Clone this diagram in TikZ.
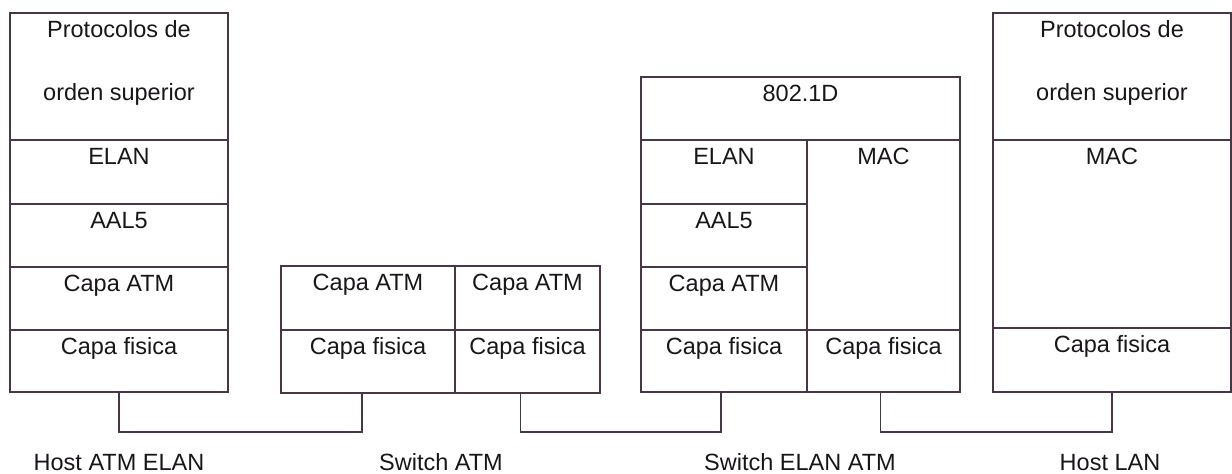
\documentclass[tikz,border=0pt]{standalone}
\usepackage{fontspec}
\setmainfont{Liberation Sans}
\usetikzlibrary{fit}
\definecolor{linec}{RGB}{70,55,68}
\definecolor{txtc}{RGB}{25,22,25}
\tikzset{
  cellst/.style={draw=linec, line width=1.5pt, inner sep=0pt, rectangle},
  txt/.style={text=txtc, font=\fontsize{23.5}{28}\selectfont, inner sep=0pt, anchor=base},
  conn/.style={draw=linec, line width=1.5pt},
}
\newcommand\cell[6]{%
  \node[cellst, fit={(#2,#3) (#4,#5)}] (#1) {};
  \node[txt] (#1-t) at ([yshift=-25pt]#1.north) {#6};
}
\begin{document}
\begin{tikzpicture}[x=1pt,y=-1pt]
\useasboundingbox (0,0) rectangle (1232,474);
% Host ATM ELAN
\node[cellst, fit={(10,13) (228,140)}] (ha1) {};
\node[txt] (ha1-t) at ([yshift=-25pt]ha1.north) {Protocolos de};
\node[txt] (ha1-u) at ([yshift=-88pt]ha1.north) {orden superior};
\cell{ha2}{10}{140}{228}{204}{ELAN}
\cell{ha3}{10}{204}{228}{267}{AAL5}
\cell{ha4}{10}{267}{228}{330}{Capa ATM}
\cell{ha5}{10}{330}{228}{392}{Capa fisica}
% Switch ATM
\cell{sa1}{281}{266}{455}{330}{Capa ATM}
\cell{sa2}{455}{266}{600}{330}{Capa ATM}
\cell{sa3}{281}{330}{455}{393}{Capa fisica}
\cell{sa4}{455}{330}{600}{393}{Capa fisica}
% Switch ELAN ATM
\cell{se1}{641}{77}{960}{140}{802.1D}
\cell{se2}{641}{140}{807}{204}{ELAN}
\cell{se3}{641}{204}{807}{267}{AAL5}
\cell{se4}{641}{267}{807}{330}{Capa ATM}
\cell{se5}{641}{330}{807}{392}{Capa fisica}
\cell{se6}{807}{140}{960}{330}{MAC}
\cell{se7}{807}{330}{960}{392}{Capa fisica}
% Host LAN
\node[cellst, fit={(993,13) (1231,140)}] (hl1) {};
\node[txt] (hl1-t) at ([yshift=-25pt]hl1.north) {Protocolos de};
\node[txt] (hl1-u) at ([yshift=-88pt]hl1.north) {orden superior};
\cell{hl2}{993}{140}{1231}{328}{MAC}
\cell{hl3}{993}{328}{1231}{392}{Capa fisica}
% connectors
\coordinate (lvl) at (0,432);
\draw[conn] (ha5.south) -- (ha5.south |- lvl) -| ([xshift=-6pt]sa3.south);
\draw[conn] ([xshift=-7pt]sa4.south) -- ([xshift=-7pt]sa4.south |- lvl) -| ([xshift=-3pt]se5.south);
\draw[conn] ([xshift=-3pt]se7.south) -- ([xshift=-3pt]se7.south |- lvl) -| (hl3.south);
% labels
\node[txt] (l1) at (119,470) {Host ATM ELAN};
\node[txt] (l2) at (441,470) {Switch ATM};
\node[txt] (l3) at (800,470) {Switch ELAN ATM};
\node[txt] (l4) at (1110,470) {Host LAN};
\end{tikzpicture}
\end{document}
